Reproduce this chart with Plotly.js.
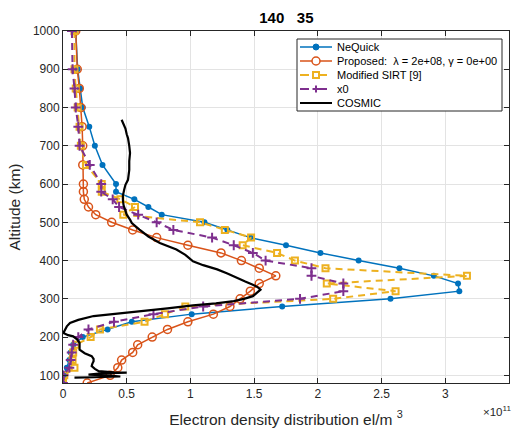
<!DOCTYPE html>
<html>
<head>
<meta charset="utf-8">
<script src="https://cdn.plot.ly/plotly-3.0.1.min.js"></script>
<style>html,body{margin:0;padding:0;background:#fff;}#chart{width:516px;height:434px;}</style>
</head>
<body>
<div id="chart"></div>
<script>
// Altitude grid (km)
const altitude = [1000, 900, 850, 800, 750, 700, 650, 600, 580, 560, 540, 520, 500, 480, 460, 440, 420, 400, 380, 360, 340, 320, 300, 280, 260, 240, 220, 200, 180, 160, 140, 120, 100, 80];
// Electron density (x 1e11 el/m^3)
const neQuick  = [0.10, 0.115, 0.135, 0.155, 0.206, 0.25, 0.31, 0.416, 0.416, 0.56, 0.67, 0.775, 1.11, 1.29, 1.47, 1.75, 2.02, 2.32, 2.64, 2.91, 3.10, 3.11, 2.57, 1.72, 1.01, 0.54, 0.35, 0.155, 0.08, 0.06, 0.05, 0.03, 0.01, 0.005];
const proposed = [0.10, 0.112, 0.128, 0.14, 0.15, 0.155, 0.155, 0.16, 0.16, 0.167, 0.20, 0.257, 0.382, 0.547, 0.735, 0.98, 1.24, 1.40, 1.54, 1.67, 1.54, 1.47, 1.39, 1.31, 1.18, 0.98, 0.82, 0.70, 0.586, 0.547, 0.46, 0.43, 0.37, 0.19];
const sirt     = [0.09, 0.09, 0.10, 0.115, 0.13, 0.14, 0.18, 0.304, 0.304, 0.45, 0.565, 0.473, 1.075, 1.27, 1.476, 1.41, 1.68, 1.82, 2.06, 3.17, 2.07, 2.61, 2.12, 0.96, 0.80, 0.64, 0.29, 0.217, 0.10, 0.08, 0.075, 0.09, 0.01, 0.0];
const x0       = [0.07, 0.075, 0.09, 0.10, 0.12, 0.13, 0.21, 0.30, 0.30, 0.39, 0.44, 0.59, 0.735, 0.866, 1.17, 1.34, 1.49, 1.59, 1.95, 1.95, 2.2, 2.2, 1.86, 1.10, 0.71, 0.40, 0.20, 0.12, 0.08, 0.068, 0.06, 0.05, 0.005, 0.0];
// COSMIC profile
const cosmicAlt = [768, 760, 745, 730, 720, 700, 681, 660, 637, 611, 598, 585, 570, 559, 545, 533, 520, 507, 498, 481, 463, 446, 429, 415, 398, 388, 377, 366, 355, 345, 337, 330, 324, 315, 307, 300, 294, 288, 283, 275, 268, 262, 255, 245, 237, 228, 220, 211, 205, 202, 194, 185, 176, 167, 158, 150, 143, 137, 130, 124, 117, 111, 108, 107, 105, 102, 100, 97, 95, 94];
const cosmicX   = [0.46, 0.47, 0.49, 0.50, 0.51, 0.52, 0.526, 0.52, 0.52, 0.51, 0.49, 0.48, 0.47, 0.47, 0.475, 0.487, 0.50, 0.526, 0.54, 0.60, 0.67, 0.76, 0.89, 0.96, 1.02, 1.10, 1.21, 1.29, 1.36, 1.43, 1.49, 1.53, 1.55, 1.52, 1.49, 1.42, 1.34, 1.20, 1.02, 0.82, 0.63, 0.42, 0.24, 0.12, 0.055, 0.03, 0.016, 0.003, 0.04, 0.08, 0.11, 0.13, 0.13, 0.13, 0.17, 0.225, 0.24, 0.24, 0.23, 0.225, 0.25, 0.28, 0.40, 0.50, 0.30, 0.20, 0.35, 0.45, 0.25, 0.09];
const xTicks = [0, 0.5, 1, 1.5, 2, 2.5, 3, 3.5];
const yTicks = [100, 200, 300, 400, 500, 600, 700, 800, 900, 1000];
const seriesNames = ['NeQuick', 'Proposed:  \u03bb = 2e+08, \u03b3 = 0e+00', 'Modified SIRT [9]', 'x0', 'COSMIC'];
const colors = ['#0072BD', '#D95319', '#EDB120', '#7E2F8E', '#000000'];

const FONT = 'Liberation Sans, Arial, Helvetica, sans-serif';
const traces = [
  {x: neQuick, y: altitude, name: seriesNames[0], mode: 'lines+markers',
   line: {color: colors[0], width: 1.5}, marker: {symbol: 'circle', size: 6, color: colors[0]}},
  {x: proposed, y: altitude, name: seriesNames[1], mode: 'lines+markers',
   line: {color: colors[1], width: 1.5}, marker: {symbol: 'circle-open', size: 8, color: colors[1], line: {width: 1.5}}},
  {x: sirt, y: altitude, name: seriesNames[2], mode: 'lines+markers',
   line: {color: colors[2], width: 2, dash: '7px,5px'}, marker: {symbol: 'square-open', size: 6, color: colors[2], line: {width: 2}}},
  {x: x0, y: altitude, name: seriesNames[3], mode: 'lines+markers',
   line: {color: colors[3], width: 2, dash: '7px,5px'}, marker: {symbol: 'cross-thin', size: 7, color: colors[3], line: {width: 2, color: colors[3]}}},
  {x: cosmicX, y: cosmicAlt, name: seriesNames[4], mode: 'lines',
   line: {color: colors[4], width: 2.2}}
];

// --- custom legend (MATLAB-like compact box), built in paper coordinates ---
const M = {l: 63, r: 7, t: 31, b: 51};
const W = 516, H = 434;
const pw = W - M.l - M.r, ph = H - M.t - M.b;
const PX = p => (p - M.l) / pw;
const PY = p => 1 - (p - M.t) / ph;
const legLeft = 297, legRight = 502, legTop = 39, legBottom = 111;
const rowY = [47, 61, 75, 89, 103];
const shapes = [{type: 'rect', xref: 'paper', yref: 'paper', x0: PX(legLeft), x1: PX(legRight), y0: PY(legBottom), y1: PY(legTop),
                 fillcolor: '#ffffff', line: {color: '#262626', width: 1}, layer: 'above'}];
const annotations = [];
const dashes = ['solid', 'solid', 'dash', 'dash', 'solid'];
const widths = [1.5, 1.5, 2, 2, 2];
rowY.forEach((yy, i) => {
  const cy = PY(yy), cx = PX(316);
  shapes.push({type: 'line', xref: 'paper', yref: 'paper', x0: PX(300), x1: PX(332), y0: cy, y1: cy, layer: 'above',
               line: {color: colors[i], width: widths[i], dash: dashes[i]}});
  const base = {xref: 'paper', yref: 'paper', xsizemode: 'pixel', ysizemode: 'pixel', xanchor: cx, yanchor: cy, layer: 'above'};
  if (i === 0) shapes.push(Object.assign({type: 'circle', x0: -3, x1: 3, y0: -3, y1: 3, fillcolor: colors[i], line: {color: colors[i], width: 1}}, base));
  if (i === 1) shapes.push(Object.assign({type: 'circle', x0: -4, x1: 4, y0: -4, y1: 4, fillcolor: '#ffffff', line: {color: colors[i], width: 1.5}}, base));
  if (i === 2) shapes.push(Object.assign({type: 'rect', x0: -3, x1: 3, y0: -3, y1: 3, fillcolor: '#ffffff', line: {color: colors[i], width: 2}}, base));
  if (i === 3) {
    shapes.push(Object.assign({type: 'line', x0: -3.5, x1: 3.5, y0: 0, y1: 0, line: {color: colors[i], width: 2}}, base));
    shapes.push(Object.assign({type: 'line', x0: 0, x1: 0, y0: -3.5, y1: 3.5, line: {color: colors[i], width: 2}}, base));
  }
  annotations.push({text: seriesNames[i], xref: 'paper', yref: 'paper', x: PX(335), y: cy, xanchor: 'left', yanchor: 'middle',
                    showarrow: false, font: {family: FONT, size: 11, color: '#000'}});
});
annotations.push({text: '\u00d710<sup>11</sup>', xref: 'paper', yref: 'paper', x: 1, y: PY(411), xanchor: 'right', yanchor: 'middle',
                  xshift: 4, showarrow: false, font: {family: FONT, size: 11.5, color: '#262626'}});

const axisFont = {family: FONT, size: 12, color: '#262626'};
const layout = {
  width: W, height: H,
  margin: {l: M.l, r: M.r, t: M.t, b: M.b, pad: 0},
  paper_bgcolor: '#ffffff', plot_bgcolor: '#ffffff',
  showlegend: false,
  title: {text: '<b>140\u00a0\u00a0\u00a035</b>', x: 0.555, xanchor: 'center', y: 0.958, yanchor: 'middle',
          font: {family: FONT, size: 15, color: '#000'}},
  xaxis: {range: [0, 3.5], tickvals: xTicks, ticktext: xTicks.map(String), ticks: 'inside', ticklen: 5, tickcolor: '#262626',
          showline: true, linecolor: '#262626', linewidth: 1, mirror: 'ticks', showgrid: true, gridcolor: '#e3e3e3', zeroline: false,
          tickfont: axisFont,
          title: {text: 'Electron density distribution el/m <sup>3</sup>', standoff: 13,
                  font: {family: FONT, size: 15.5, color: '#262626'}}},
  yaxis: {range: [80, 1000], tickvals: yTicks, ticks: 'inside', ticklen: 5, tickcolor: '#262626',
          showline: true, linecolor: '#262626', linewidth: 1, mirror: 'ticks', showgrid: true, gridcolor: '#e3e3e3', zeroline: false,
          tickfont: axisFont,
          title: {text: 'Altitude (km)', standoff: 8,
                  font: {family: FONT, size: 15.5, color: '#262626'}}},
  shapes: shapes,
  annotations: annotations
};
Plotly.newPlot('chart', traces, layout, {displayModeBar: false, staticPlot: true});
</script>
</body>
</html>
